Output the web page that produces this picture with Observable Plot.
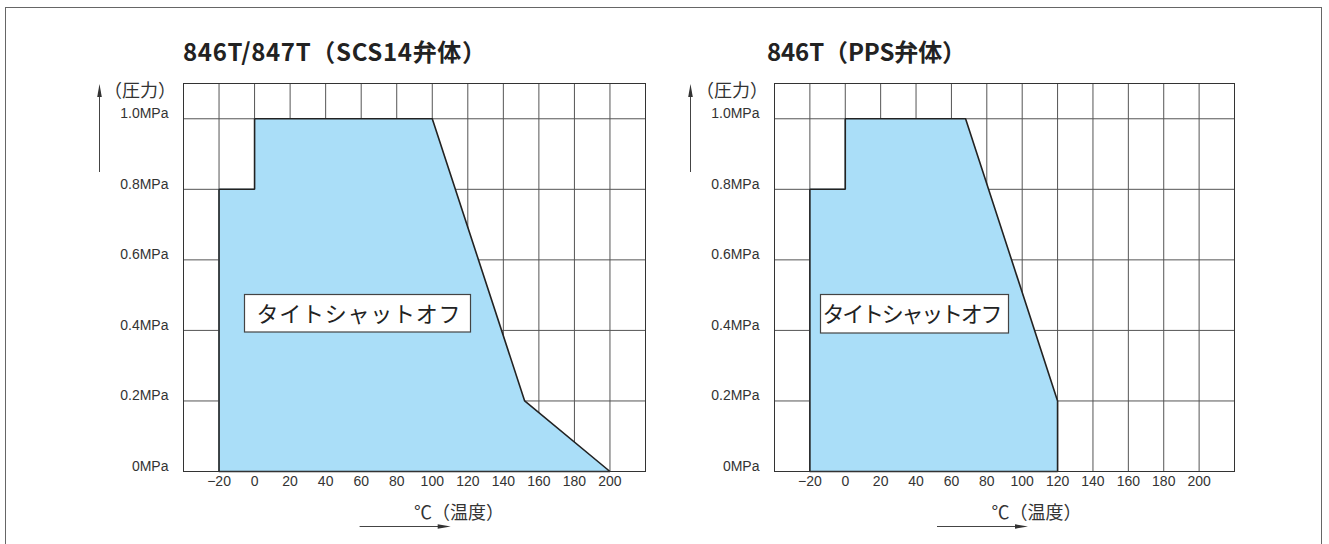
<!DOCTYPE html>
<html>
<head>
<meta charset="utf-8">
<script src="https://cdn.jsdelivr.net/npm/d3@7"></script>
<script src="https://cdn.jsdelivr.net/npm/@observablehq/plot@0.6"></script>
<style>
html, body { margin: 0; padding: 0; background: #fff; }
#wrap { position: relative; width: 1329px; height: 544px; overflow: hidden; background: #fff; }
#wrap > svg { position: absolute; top: 0; }
</style>
</head>
<body>
<div id="wrap"></div>
<script>
// ---- data ----
const temperatureTicks = [-20, 0, 20, 40, 60, 80, 100, 120, 140, 160, 180, 200];
const pressureTicks = [0, 0.2, 0.4, 0.6, 0.8, 1.0];
const scs14Temperature = [-20, -20, 0, 0, 100, 152, 200];
const scs14Pressure    = [0, 0.8, 0.8, 1.0, 1.0, 0.2, 0];
const ppsTemperature   = [-20, -20, 0, 0, 68, 120, 120];
const ppsPressure      = [0, 0.8, 0.8, 1.0, 1.0, 0.2, 0];
const chartTitles = ["846T/847T（SCS14弁体）", "846T（PPS弁体）"];
const yAxisLabel = "（圧力）";
const xAxisLabel = "℃（温度）";
const regionLabel = "タイトシャットオフ";

const FILL = "#aadef8";

function makeChart(temps, pres, width, marginLeft, marginRight) {
  const pts = temps.map((t, i) => ({t, p: pres[i]}));
  const outline = [...pts, pts[0]];
  return Plot.plot({
    width, height: 544,
    marginLeft, marginRight, marginTop: 83, marginBottom: 73,
    x: {domain: [-40, 220]},
    y: {domain: [0, 1.1]},
    style: {background: "transparent", fontFamily: "'Liberation Sans', Arial, sans-serif", fontSize: "14px", color: "#333", overflow: "visible"},
    marks: [
      Plot.gridX(temperatureTicks, {stroke: "#555", strokeOpacity: 1}),
      Plot.gridY(pressureTicks.filter(d => d > 0), {stroke: "#555", strokeOpacity: 1}),
      Plot.areaY(pts, {x: "t", y1: 0, y2: "p", fill: FILL, curve: "linear"}),
      Plot.line(outline, {x: "t", y: "p", stroke: "#222", strokeWidth: 1.6, strokeLinejoin: "miter", curve: "linear"}),
      Plot.frame({stroke: "#333"}),
      Plot.axisX(temperatureTicks, {tickSize: 0, tickPadding: 5, label: null,
        tickFormat: d => d < 0 ? "−" + (-d) : String(d)}),
      Plot.axisY(pressureTicks, {tickSize: 0, tickPadding: 15, dy: -5, label: null,
        tickFormat: d => (d === 0 ? "0" : d.toFixed(1)) + "MPa"})
    ]
  });
}

const wrap = document.getElementById("wrap");
const left = makeChart(scs14Temperature, scs14Pressure, 664, 183, 19);
left.style.left = "0px";
const right = makeChart(ppsTemperature, ppsPressure, 665, 110, 95);
right.style.left = "664px";
wrap.appendChild(left);
wrap.appendChild(right);

// ---- decorations overlay ----
const ns = "http://www.w3.org/2000/svg";
const ov = document.createElementNS(ns, "svg");
ov.setAttribute("width", 1329);
ov.setAttribute("height", 544);
ov.style.position = "absolute";
ov.style.left = "0px";
ov.style.top = "0px";
ov.style.pointerEvents = "none";
wrap.appendChild(ov);

function el(tag, attrs, text) {
  const e = document.createElementNS(ns, tag);
  for (const k in attrs) e.setAttribute(k, attrs[k]);
  if (text != null) e.textContent = text;
  ov.appendChild(e);
  return e;
}

const JP = "'Noto Sans CJK JP', 'Noto Sans', sans-serif";

// outer border
el("rect", {x: 5.5, y: 7.5, width: 1316, height: 600, fill: "none", stroke: "#666", "stroke-width": 1});

const panels = [
  {titleX: 183, titleLen: 303, yArrowX: 99.5, yLabX: 104, xLabX: 414, xArrow: [359.6, 450.7],
   box: [244.5, 294.5, 226, 37.5], boxText: [256.5, 321.5, 204]},
  {titleX: 767, titleLen: 199, yArrowX: 690.5, yLabX: 696, xLabX: 991.5, xArrow: [937, 1028],
   box: [820.5, 294.5, 188, 38.5], boxText: [822.5, 322, 180]}
];

panels.forEach((p, i) => {
  el("text", {x: p.titleX, y: 60.5, "font-family": JP, "font-weight": 700, "font-size": 24, fill: "#222",
    textLength: p.titleLen, lengthAdjust: "spacing"}, chartTitles[i]);
  // y arrow
  el("line", {x1: p.yArrowX, y1: 172, x2: p.yArrowX, y2: 95, stroke: "#444", "stroke-width": 1});
  el("polygon", {points: `${p.yArrowX},84 ${p.yArrowX - 2.3},97 ${p.yArrowX + 2.3},97`, fill: "#333"});
  el("text", {x: p.yLabX, y: 97, "font-family": JP, "font-size": 18, fill: "#333"}, yAxisLabel);
  // x label & arrow
  el("text", {x: p.xLabX, y: 518.5, "font-family": JP, "font-size": 18, fill: "#333"}, xAxisLabel);
  const [ax0, ax1] = p.xArrow;
  el("line", {x1: ax0, y1: 526.5, x2: ax1 - 12, y2: 526.5, stroke: "#444", "stroke-width": 1});
  el("polygon", {points: `${ax1},526.5 ${ax1 - 13},524.2 ${ax1 - 13},528.8`, fill: "#333"});
  // region box
  const [bx, by, bw, bh] = p.box;
  el("rect", {x: bx, y: by, width: bw, height: bh, fill: "#fff", stroke: "#444", "stroke-width": 1.2});
  const [tx, ty, tl] = p.boxText;
  el("text", {x: tx, y: ty, "font-family": JP, "font-size": 22, fill: "#222",
    textLength: tl, lengthAdjust: "spacing"}, regionLabel);
});
</script>
</body>
</html>
